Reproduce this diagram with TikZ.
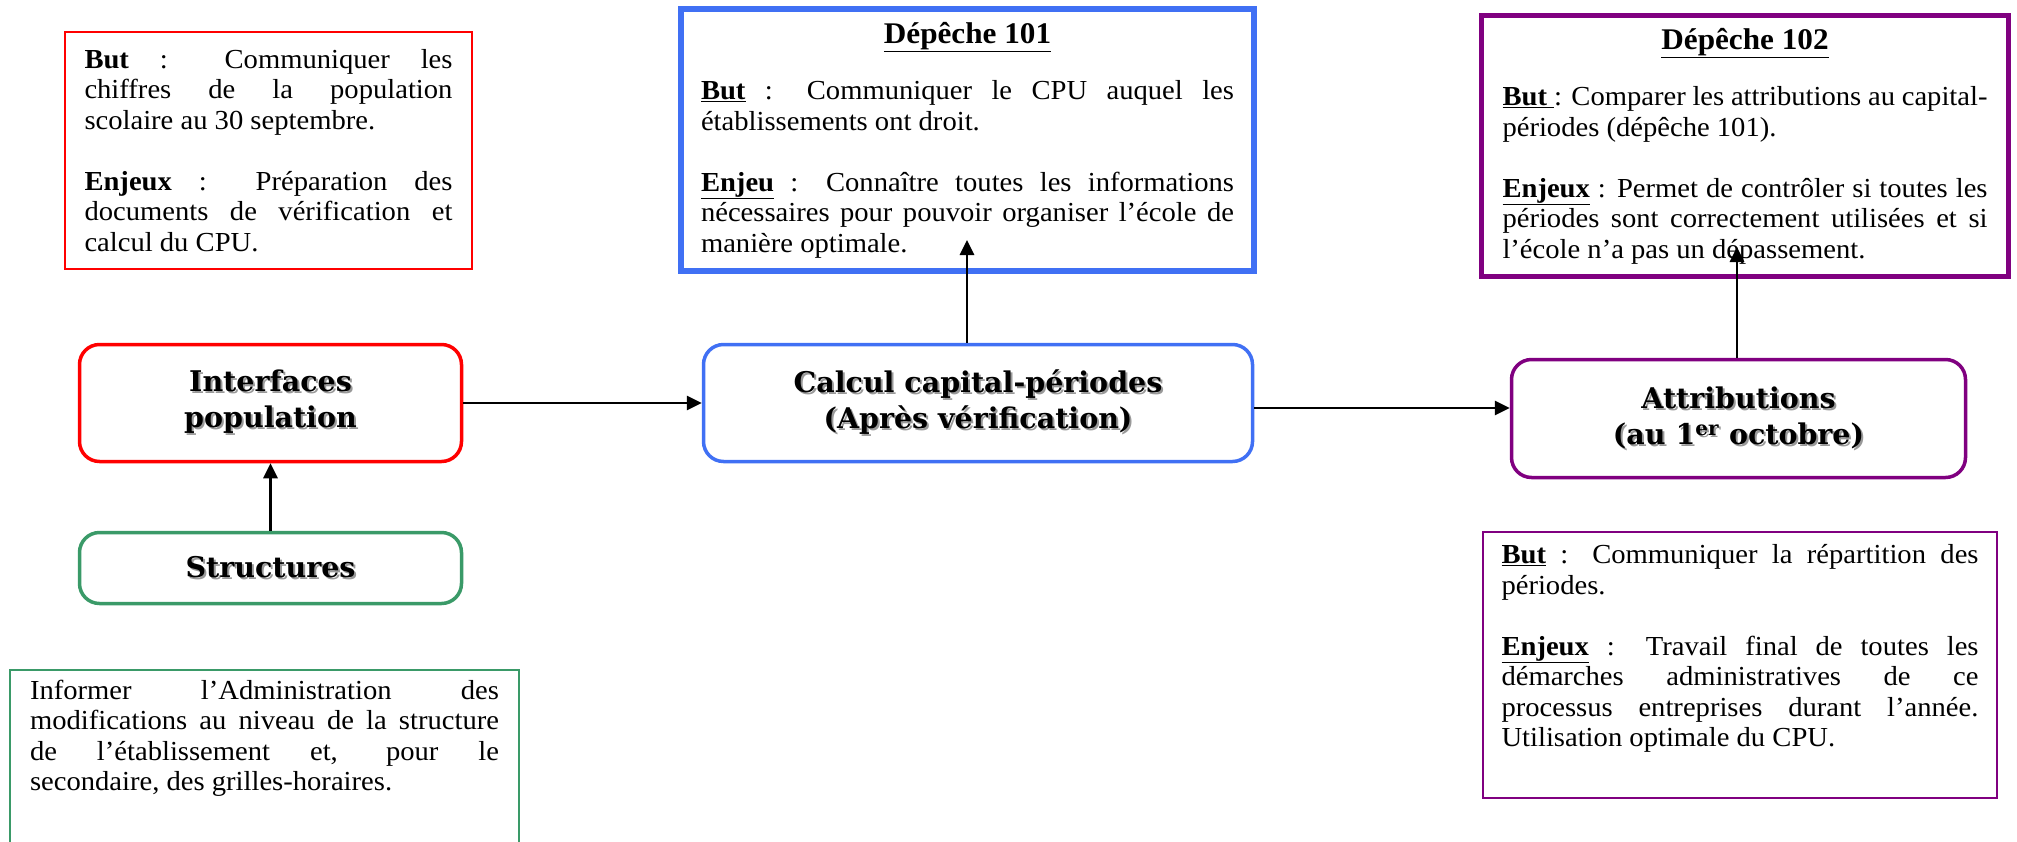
\documentclass[tikz,border=0pt]{standalone}
\usepackage{fontspec}
\setmainfont[FakeStretch=1.04]{Liberation Serif}
\newfontfamily\headfont{DejaVu Serif}
\usetikzlibrary{arrows.meta}
\definecolor{boxred}{RGB}{255,0,0}
\definecolor{boxblue}{RGB}{64,112,244}
\definecolor{boxpurple}{RGB}{128,0,128}
\definecolor{boxgreen}{RGB}{58,154,104}
\newcommand{\shd}[1]{\leavevmode\rlap{\kern2pt\raisebox{-2pt}{\textcolor{black!40}{#1}}}#1}
\newcommand{\deptitle}[1]{{\fontsize{30}{30.5}\selectfont\makebox[\hsize]{\textbf{\underline{#1}}}\par}\vspace{26pt}}
\tolerance=10000
\hbadness=10000
\parindent=0pt
\begin{document}
\begin{tikzpicture}[x=1pt,y=-1pt,
  note/.style={draw=#1,rectangle,inner sep=0pt,align=justify,font=\fontsize{27.5}{30.5}\selectfont},
  stage/.style={draw=#1,rectangle,rounded corners=20pt,line width=3.5pt,inner sep=0pt,align=center,font=\headfont\bfseries\fontsize{28.5}{36}\selectfont},
  arr/.style={-{Triangle[length=15pt,width=14pt]},line width=2.8pt}]
 \useasboundingbox (0,0) rectangle (2017,841);
 \node[note=boxred,line width=2pt,text width=368pt,minimum width=407pt,minimum height=237pt] (butpop) at (268.5,150.5) {\textbf{But} : Communiquer les\linebreak chiffres de la population\linebreak scolaire au 30 septembre.\par\vspace{30.5pt}\textbf{Enjeux} : Préparation des\linebreak documents de vérification et\linebreak calcul du CPU.};
 \node[note=boxblue,line width=6pt,text width=533pt,minimum width=573pt,minimum height=262pt] (dep101) at (967.5,140) {\deptitle{Dépêche 101}\textbf{\underline{But}} : Communiquer le CPU auquel les\linebreak établissements ont droit.\par\vspace{30.5pt}\textbf{\underline{Enjeu}} : Connaître toutes les informations\linebreak nécessaires pour pouvoir organiser l’école de\linebreak manière optimale.};
 \node[note=boxpurple,line width=5.5pt,text width=485pt,minimum width=527pt,minimum height=261pt] (dep102) at (1745,146) {\deptitle{Dépêche 102}\textbf{\underline{But }}: Comparer les attributions au capital-\linebreak périodes (dépêche 101).\par\vspace{30.5pt}\textbf{\underline{Enjeux}} : Permet de contrôler si toutes les\linebreak périodes sont correctement utilisées et si\linebreak l’école n’a pas un dépassement.};
 \node[note=boxpurple,line width=2pt,text width=477pt,minimum width=514pt,minimum height=266pt] (butattr) at (1740,665) {\textbf{\underline{But}} : Communiquer la répartition des\linebreak périodes.\par\vspace{30.5pt}\textbf{\underline{Enjeux}} : Travail final de toutes les\linebreak démarches administratives de ce\linebreak processus entreprises durant l’année.\linebreak Utilisation optimale du CPU.\par\vspace{8pt}\mbox{}};
 \node[note=boxgreen,line width=2pt,text width=469pt,minimum width=509pt,inner ysep=10pt,anchor=north] (butstruct) at (264.5,669) {Informer l’Administration des\linebreak modifications au niveau de la structure\linebreak de l’établissement et, pour le\linebreak secondaire, des grilles-horaires.\par\vspace{120pt}\mbox{}};
 \node[stage=boxred,minimum width=382pt,minimum height=117pt] (iface) at (270.5,403) {\shd{Interfaces}\\\shd{population}};
 \node[stage=boxgreen,minimum width=382pt,minimum height=71pt] (struct) at (270.5,568) {\shd{Structures}};
 \node[stage=boxblue,minimum width=549pt,minimum height=117pt] (calc) at (978,403) {\shd{Calcul capital-périodes}\\\shd{(Après vérification)}};
 \node[stage=boxpurple,minimum width=454pt,minimum height=118pt] (attr) at (1738.5,418.5) {\shd{Attributions}\\\shd{(au 1\textsuperscript{er} octobre)}};
 \coordinate (d101tip) at (967,240);
 \coordinate (d102tip) at (1737,247);
 \draw[arr] (struct) -- (iface);
 \draw[arr] (iface) -- (calc);
 \draw[arr] ([yshift=-5pt]calc.east) -- ([yshift=-5pt]calc.east -| attr.west);
 \draw[arr] (d101tip |- calc.north) -- (d101tip);
 \draw[arr] (d102tip |- attr.north) -- (d102tip);
\end{tikzpicture}
\end{document}
